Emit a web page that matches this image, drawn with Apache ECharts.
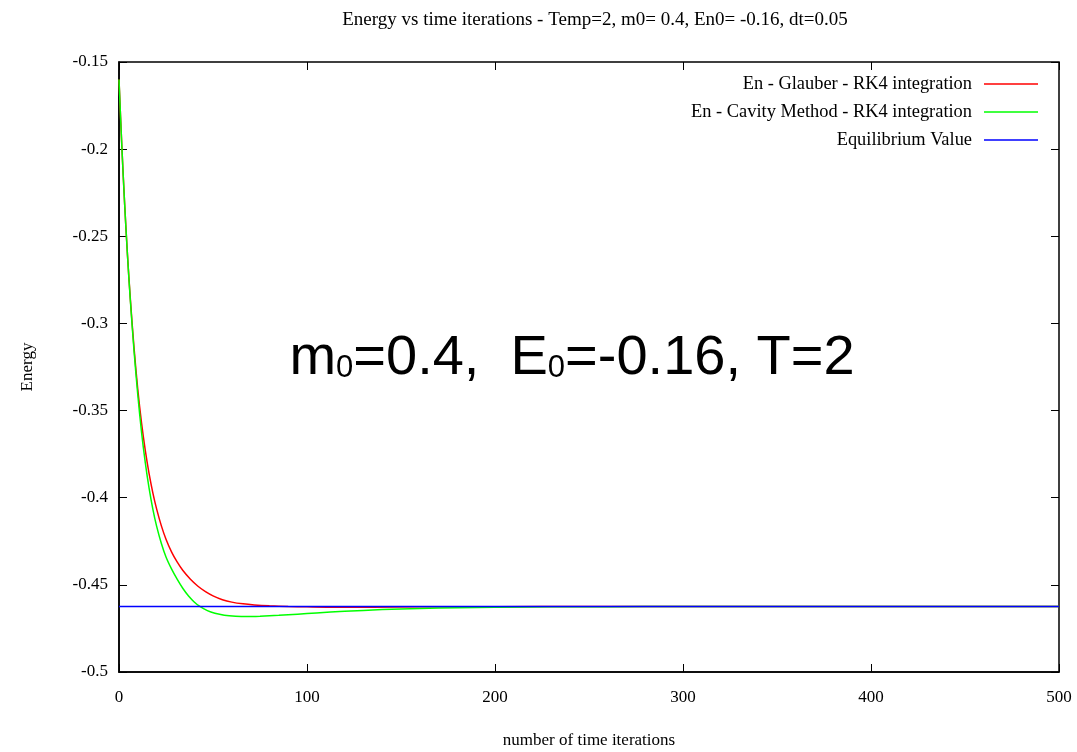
<!DOCTYPE html>
<html>
<head>
<meta charset="utf-8">
<script src="https://cdn.jsdelivr.net/npm/echarts@6/dist/echarts.min.js"></script>
<style>
html,body{margin:0;padding:0;background:#fff;}
#chart{width:1077px;height:752px;}
</style>
</head>
<body>
<div id="chart"></div>
<script>
// Glauber RK4 (red)
var glauberT = [0, 1.5, 3, 4.5, 6, 8, 10, 12, 14, 16, 18, 20, 22.5, 25, 28, 31, 34, 38, 42, 46, 50, 55, 60, 66, 72, 80, 90, 100, 115, 135, 160, 200, 250, 350, 500];
var glauberE = [-0.1600, -0.1982, -0.2315, -0.2605, -0.2855, -0.3140, -0.3380, -0.3572, -0.3730, -0.3862, -0.3972, -0.4064, -0.4160, -0.4238, -0.4312, -0.4370, -0.4418, -0.4468, -0.4508, -0.4539, -0.4563, -0.4585, -0.4599, -0.4609, -0.4615, -0.4620, -0.4624, -0.4626, -0.4628, -0.4628, -0.4626, -0.4625, -0.4624, -0.4624, -0.4624];
// Cavity method RK4 (green)
var cavityT = [0, 1.5, 3, 4.5, 6, 8, 10, 12, 14, 16, 18, 20, 22.5, 25, 28, 31, 34, 37, 40, 43, 47, 51, 56, 62, 68, 75, 85, 95, 105, 120, 140, 160, 180, 200, 230, 260, 300, 500];
var cavityE = [-0.1600, -0.1982, -0.2315, -0.2607, -0.2863, -0.3158, -0.3410, -0.3625, -0.3800, -0.3945, -0.4065, -0.4163, -0.4261, -0.4340, -0.4410, -0.4469, -0.4521, -0.4564, -0.4598, -0.4624, -0.4648, -0.4663, -0.4674, -0.4680, -0.4682, -0.4680, -0.4675, -0.4668, -0.4661, -0.4652, -0.4642, -0.4635, -0.4631, -0.4628, -0.4626, -0.4625, -0.4624, -0.4624];
// Equilibrium value (blue)
var eqT = [0, 500];
var eqE = [-0.4624, -0.4624];

var seriesNames = ['En - Glauber - RK4 integration', 'En - Cavity Method - RK4 integration', 'Equilibrium Value'];
var seriesColors = ['#ff0000', '#00ff00', '#0000ff'];

function pairs(xs, ys){ return xs.map(function(x,i){ return [x, ys[i]]; }); }

var serif = '"Liberation Serif", "DejaVu Serif", serif';
var sans = '"Liberation Sans", Arial, sans-serif';
var chart = echarts.init(document.getElementById('chart'), null, {renderer:'canvas'});

function ticks(){ return {show:true, inside:true, length:8, lineStyle:{color:'#000', width:1}}; }

chart.setOption({
  animation:false,
  backgroundColor:'#fff',
  title:[{
    text:'Energy vs time iterations - Temp=2, m0= 0.4, En0= -0.16, dt=0.05',
    left:590, top:6, textAlign:'center',
    textStyle:{fontFamily:serif, fontSize:19, fontWeight:'normal', color:'#000'}
  },{
    text:'{a|m}{s|0}{a|=0.4,  E}{s|0}{a|=-0.16, T=2}',
    left:567, top:326, textAlign:'center',
    textStyle:{
      fontWeight:'normal',
      rich:{
        a:{fontFamily:sans, fontSize:56, fontWeight:'normal', color:'#000', verticalAlign:'bottom'},
        s:{fontFamily:sans, fontSize:31, fontWeight:'normal', color:'#000', verticalAlign:'bottom', padding:[0,0,3,0]}
      }
    }
  }],
  legend:{
    orient:'vertical', right:39, top:74, align:'right', padding:0,
    icon:'rect', itemWidth:54, itemHeight:1.5, itemGap:8,
    data:seriesNames,
    textStyle:{fontFamily:serif, fontSize:18.4, color:'#000', lineHeight:20, height:20, padding:[0,7,0,0]}
  },
  grid:{left:119, right:18, top:62, bottom:80, show:true, borderColor:'#000', borderWidth:1.5,
        containLabel:false, outerBoundsMode:'none'},
  xAxis:[{
    type:'value', min:0, max:500, interval:100,
    name:'number of time iterations', nameLocation:'middle', nameGap:60,
    nameTextStyle:{fontFamily:serif, fontSize:17, color:'#000'},
    axisLine:{show:true, onZero:false, lineStyle:{color:'#000', width:1.5}},
    axisTick:ticks(),
    axisLabel:{fontFamily:serif, fontSize:17, color:'#000', margin:17},
    splitLine:{show:false}
  },{
    type:'value', min:0, max:500, interval:100, position:'top',
    axisLine:{show:false, onZero:false}, axisTick:ticks(), axisLabel:{show:false}, splitLine:{show:false}
  }],
  yAxis:[{
    type:'value', min:-0.5, max:-0.15, interval:0.05, position:'left',
    name:'Energy', nameLocation:'middle', nameGap:83,
    nameTextStyle:{fontFamily:serif, fontSize:17, color:'#000'},
    axisLine:{show:true, onZero:false, lineStyle:{color:'#000', width:1.5}},
    axisTick:ticks(),
    axisLabel:{fontFamily:serif, fontSize:17, color:'#000', margin:11,
      formatter:function(v){ return String(+v.toFixed(2)); }},
    splitLine:{show:false}
  },{
    type:'value', min:-0.5, max:-0.15, interval:0.05, position:'right',
    axisLine:{show:false, onZero:false}, axisTick:ticks(), axisLabel:{show:false}, splitLine:{show:false}
  }],
  series:[{
    name:seriesNames[0], type:'line', symbol:'none', smooth:0.3,
    data:pairs(glauberT, glauberE),
    lineStyle:{color:seriesColors[0], width:1.5}, itemStyle:{color:seriesColors[0]}
  },{
    name:seriesNames[1], type:'line', symbol:'none', smooth:0.3,
    data:pairs(cavityT, cavityE),
    lineStyle:{color:seriesColors[1], width:1.5}, itemStyle:{color:seriesColors[1]}
  },{
    name:seriesNames[2], type:'line', symbol:'none',
    data:pairs(eqT, eqE),
    lineStyle:{color:seriesColors[2], width:1.5}, itemStyle:{color:seriesColors[2]}
  }]
});
</script>
</body>
</html>
